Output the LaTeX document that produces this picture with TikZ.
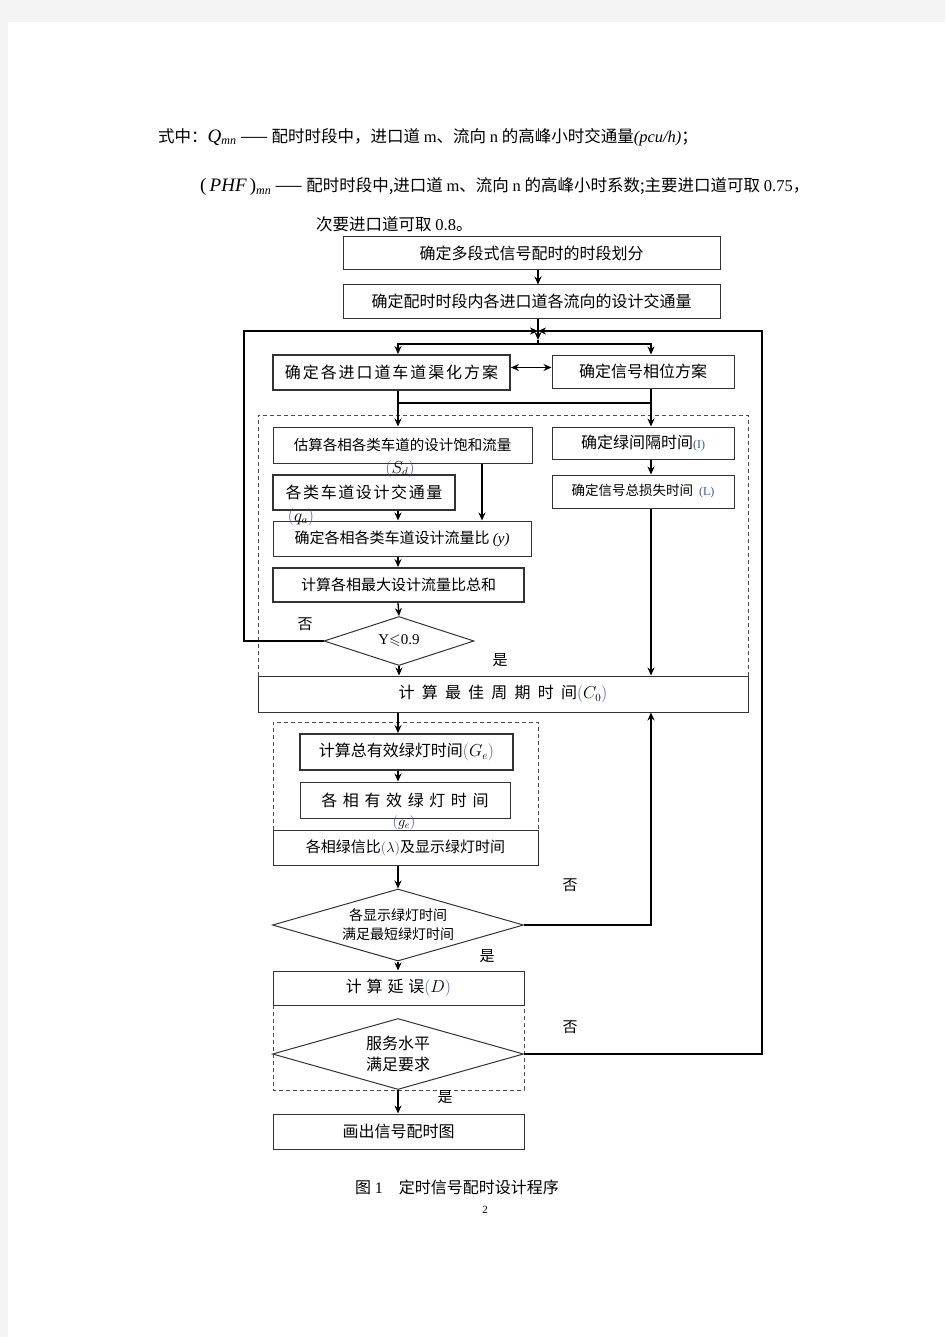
\documentclass[tikz,border=0pt]{standalone}
\usepackage{amssymb}
\usepackage{fontspec}
\setmainfont{Liberation Serif}
\newfontfamily\cjk{Noto Sans CJK SC}
\usetikzlibrary{arrows.meta,shapes.geometric}

\definecolor{pagegrey}{RGB}{244,244,244}
\definecolor{mathblue}{RGB}{50,90,160}

\tikzset{
  box/.style={draw=black!80, line width=1pt, inner sep=0pt, font=\cjk\fontsize{16}{19}\selectfont},
  boxthick/.style={box, line width=1.8pt},
  dia/.style={draw=black!80, line width=1pt, diamond, shape aspect=3.5, inner sep=0pt, align=center, font=\cjk\fontsize{16}{20}\selectfont},
  grp/.style={draw=black!70, line width=0.9pt, dash pattern=on 4pt off 3pt},
  arr/.style={-{Stealth[length=8pt,width=7pt]}, line width=1.3pt},
  darr/.style={{Stealth[length=8pt,width=7pt]}-{Stealth[length=8pt,width=7pt]}, line width=1.3pt},
  wire/.style={line width=1.3pt},
  txt/.style={inner sep=0pt, font=\cjk\fontsize{16.5}{20}\selectfont},
  yn/.style={inner sep=0pt, font=\cjk\fontsize{15}{18}\selectfont}
}

\begin{document}
\begin{tikzpicture}[x=1pt,y=-1pt]
    % Page
    \useasboundingbox (0,0) rectangle (945,1337);
    \fill[pagegrey] (0,0) rectangle (945,1337);
    \fill[white] (8,22) rectangle (945,1337);

    % Text above the chart
    \node[txt,anchor=west] (h1) at (158,137) {式中：{\rmfamily\itshape\fontsize{19}{20}\selectfont Q\textsubscript{\fontsize{12}{12}\selectfont mn}} —— 配时时段中，进口道 {\rmfamily m}、流向 {\rmfamily n} 的高峰小时交通量{\rmfamily\itshape (pcu/h)}；};
    \node[txt,anchor=west] (h2) at (200,187) {{\rmfamily\fontsize{19}{20}\selectfont (\,\itshape PHF\,\upshape)\textsubscript{\itshape\fontsize{12}{12}\selectfont mn}} —— 配时时段中,进口道 {\rmfamily m}、流向 {\rmfamily n} 的高峰小时系数;主要进口道可取 {\rmfamily 0.75}，};
    \node[txt,anchor=west] (h3) at (316,224) {次要进口道可取 {\rmfamily 0.8}。};

    % Helper columns
    \coordinate (mx) at (398,0);
    \coordinate (cx) at (538,0);
    \coordinate (rx) at (651,0);
    \coordinate (qx) at (482,0);
    \coordinate (lx) at (244,0);
    \coordinate (ox) at (762,0);
    \coordinate (j1) at (538,331);
    \coordinate (j1b) at (538,340);
    \coordinate (j2) at (538,344);
    \coordinate (j3) at (398,403);

    % Dashed groups
    \draw[grp] (258,676) -- (258,415) -- (748,415) -- (748,676);
    \draw[grp] (273,830) -- (273,722) -- (538,722) -- (538,830);
    \draw[grp] (273,1005) -- (273,1090) -- (524,1090) -- (524,1005);

    % Boxes
    \node[box, minimum width=377, minimum height=33] (b1) at (531.5,253.5) {确定多段式信号配时的时段划分};
    \node[box, minimum width=377, minimum height=33] (b2) at (531.5,301.5) {确定配时时段内各进口道各流向的设计交通量};
    \node[boxthick, minimum width=237, minimum height=35, font={\cjk\fontsize{16}{19}\selectfont\addfontfeature{LetterSpace=12}}] (b3) at (391.5,372.5) {确定各进口道车道渠化方案};
    \node[box, minimum width=182, minimum height=33] (b4) at (643,371.5) {确定信号相位方案};
    \node[box, minimum width=259, minimum height=36, font=\cjk\fontsize{14.5}{18}\selectfont] (b5) at (402.5,445) {估算各相各类车道的设计饱和流量};
    \node[box, minimum width=182, minimum height=32] (b6) at (643,443) {确定绿间隔时间{\rmfamily\fontsize{12}{14}\selectfont\color{mathblue}(I)}};
    \node[boxthick, minimum width=182, minimum height=35, font={\cjk\fontsize{16}{19}\selectfont\addfontfeature{LetterSpace=10}}] (b8) at (364,492.5) {各类车道设计交通量};
    \node[box, minimum width=182, minimum height=33, font=\cjk\fontsize{13.5}{17}\selectfont] (b7) at (643,491.5) {确定信号总损失时间\ \ {\rmfamily\fontsize{12}{14}\selectfont\color{mathblue}(L)}};
    \node[box, minimum width=258, minimum height=35, font=\cjk\fontsize{15}{18}\selectfont] (b9) at (402,538.5) {确定各相各类车道设计流量比 {\rmfamily\itshape (y)}};
    \node[boxthick, minimum width=251, minimum height=34, font=\cjk\fontsize{15}{18}\selectfont] (b10) at (398.5,585) {计算各相最大设计流量比总和};
    \node[dia, minimum width=150, minimum height=49, font=\rmfamily\fontsize{15}{18}\selectfont] (d1) at (399,641) {Y$\leqslant$0.9};
    \node[box, minimum width=490, minimum height=36, font={\cjk\fontsize{16}{19}\selectfont\addfontfeature{LetterSpace=45}}] (c0) at (503,694) {计算最佳周期时间$\textcolor{mathblue}{\bigl(}C_0\textcolor{mathblue}{\bigr)}$};
    \node[boxthick, minimum width=213, minimum height=36] (b11) at (406.5,752) {计算总有效绿灯时间$\textcolor{mathblue}{\bigl(}G_e\textcolor{mathblue}{\bigr)}$};
    \node[box, minimum width=210, minimum height=36, font={\cjk\fontsize{16}{19}\selectfont\addfontfeature{LetterSpace=35}}] (b12) at (405,800) {各相有效绿灯时间};
    \node[box, minimum width=265, minimum height=35, font=\cjk\fontsize{15}{18}\selectfont] (b13) at (405.5,847.5) {各相绿信比$\textcolor{mathblue}{\bigl(}\lambda\textcolor{mathblue}{\bigr)}$及显示绿灯时间};
    \node[dia, minimum width=251, minimum height=72, font=\cjk\fontsize{14}{19}\selectfont] (d2) at (398,925) {各显示绿灯时间\\满足最短绿灯时间};
    \node[box, minimum width=251, minimum height=34, font={\cjk\fontsize{16}{19}\selectfont\addfontfeature{LetterSpace=30}}] (b14) at (398.5,988) {计算延误$\textcolor{mathblue}{\bigl(}D\textcolor{mathblue}{\bigr)}$};
    \node[dia, minimum width=251, minimum height=71, font=\cjk\fontsize{16}{21}\selectfont] (d3) at (398,1054) {服务水平\\满足要求};
    \node[box, minimum width=251, minimum height=35] (b15) at (398.5,1131.5) {画出信号配时图};

    % Symbols under boxes
    \node[txt, font=\fontsize{16}{19}\selectfont] (sd) at (400,469) {$\textcolor{mathblue}{\bigl(}S_d\textcolor{mathblue}{\bigr)}$};
    \node[txt, font=\fontsize{16}{19}\selectfont] (qa) at (301,517) {$\textcolor{mathblue}{\bigl(}q_a\textcolor{mathblue}{\bigr)}$};
    \node[txt, font=\fontsize{14}{17}\selectfont] (ge) at (404,823) {$\textcolor{mathblue}{\bigl(}g_e\textcolor{mathblue}{\bigr)}$};

    % Top part
    \draw[arr] (b1.south -| cx) -- (b2.north -| cx);
    \draw[arr] (b2.south -| cx) -- (j1b);
    \draw[wire] (j1b) -- (j2);
    \draw[arr] (j2) -| (b3.north -| mx);
    \draw[arr] (j2) -| (b4.north -| rx);
    \draw[darr] ([yshift=5pt]b3.east) -- ([yshift=5pt]b3.east -| b4.west);

    % Saturation flow and lost time
    \draw[arr] (b3.south -| mx) -- (b5.north -| mx);
    \draw[arr] (b4.south -| rx) -- (b6.north -| rx);
    \draw[wire] (j3) -- (j3 -| rx);
    \draw[arr] (b6.south -| rx) -- (b7.north -| rx);
    \draw[arr] (b5.south -| qx) -- (b9.north -| qx);
    \draw[arr] (b8.south -| mx) -- (b9.north -| mx);
    \draw[arr] (b9.south -| mx) -- (b10.north -| mx);
    \draw[arr] (b10.south -| mx) -- (d1.north);
    \draw[arr] (d1.south) -- (c0.north -| d1.south);
    \draw[arr] (b7.south -| rx) -- (c0.north -| rx);

    % Green times
    \draw[arr] (c0.south -| mx) -- (b11.north -| mx);
    \draw[arr] (b11.south -| mx) -- (b12.north -| mx);
    \draw[arr] (b13.south -| mx) -- (d2.north);
    \draw[arr] (d2.south) -- (b14.north -| d2.south);
    \draw[arr] (d3.south) -- (b15.north -| d3.south);

    % Feedback loops
    \draw[arr] (d1.west) -- (d1.west -| lx) |- (j1);
    \draw[arr] (d2.east) -| (c0.south -| rx);
    \draw[arr] (d3.east) -- (d3.east -| ox) |- (j1);

    % Yes / no labels
    \node[yn] (no1) at (305,624) {否};
    \node[yn] (yes1) at (500,660) {是};
    \node[yn] (no2) at (570,885) {否};
    \node[yn] (yes2) at (487,956) {是};
    \node[yn] (no3) at (570,1027) {否};
    \node[yn] (yes3) at (445,1097) {是};

    % Caption
    \node[txt, font=\cjk\fontsize{16}{19}\selectfont] (cap) at (457,1187) {图 {\rmfamily 1}\quad 定时信号配时设计程序};
    \node[txt, font=\rmfamily\fontsize{11}{13}\selectfont] (pg) at (485,1210) {2};
\end{tikzpicture}
\end{document}
